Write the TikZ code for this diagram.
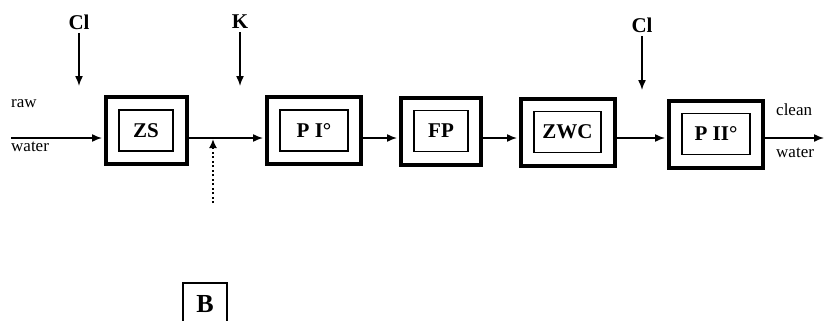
\documentclass[tikz,border=0pt]{standalone}
\usepackage{fontspec}
\setmainfont{Liberation Serif}
\usetikzlibrary{arrows.meta,calc}
\begin{document}
\begin{tikzpicture}[x=1pt,y=-1pt,
  outerbox/.style={draw,line width=4pt,inner sep=0pt,minimum height=67pt},
  innerbox/.style={draw,line width=1.8pt,inner sep=0pt,minimum height=41pt,font=\fontsize{21}{21}\selectfont\bfseries},
  flow/.style={line width=1.5pt,-{Latex[length=10pt,width=8pt]}},
  dose/.style={font=\fontsize{21}{21}\selectfont\bfseries},
  lbl/.style={font=\fontsize{17}{17}\selectfont,anchor=west,inner sep=0pt}]
\useasboundingbox (0,0) rectangle (824,321);
% line level
\coordinate (ln) at (0,138);
% boxes
\node[outerbox,minimum width=81pt] (zs) at (146.5,130.5) {};
\node[innerbox,minimum width=54pt] (zsi) at (146,130.5) {ZS};
\node[outerbox,minimum width=94pt] (p1) at (314,130.5) {};
\node[innerbox,minimum width=68pt] (p1i) at (314,130.5) {P I°};
\node[outerbox,minimum width=80pt] (fp) at (441,131) {};
\node[innerbox,minimum width=54pt] (fpi) at (441,131) {FP};
\node[outerbox,minimum width=94pt] (zwc) at (568,132) {};
\node[innerbox,minimum width=67pt] (zwci) at (567.5,132) {ZWC};
\node[outerbox,minimum width=94pt] (p2) at (716,134) {};
\node[innerbox,minimum width=68pt] (p2i) at (716,134) {P II°};
% main flow
\coordinate (src) at (11,138);
\coordinate (dst) at (824,138);
\draw[flow,shorten >=2pt] (src) -- (zs.west |- ln);
\draw[flow,shorten >=2pt] (zs.east |- ln) -- (p1.west |- ln);
\draw[flow,shorten >=2pt] (p1.east |- ln) -- (fp.west |- ln);
\draw[flow,shorten >=2pt] (fp.east |- ln) -- (zwc.west |- ln);
\draw[flow,shorten >=2pt] (zwc.east |- ln) -- (p2.west |- ln);
\draw[flow] (p2.east |- ln) -- (dst);
% side texts
\node[lbl] (raw) at (11,104) {raw};
\node[lbl] (w1) at (11,147) {water};
\node[lbl] (cln) at (776,110) {clean};
\node[lbl] (w2) at (776,153) {water};
% dosing
\node[dose] (cl1) at (79,22) {Cl};
\coordinate (cl1e) at (79,86);
\draw[flow] (cl1.south) -- (cl1e);
\node[dose] (k) at (240,22) {K};
\coordinate (ke) at (240,86);
\draw[flow] (k.south) -- (ke);
\node[dose] (cl2) at (642,25) {Cl};
\coordinate (cl2e) at (642,90);
\draw[flow] (cl2.south) -- (cl2e);
% dotted input
\coordinate (dots) at (213,203);
\coordinate (dote) at (213,139);
\draw[line width=2pt,dash pattern=on 2pt off 2.5pt,-{Latex[length=9pt,width=8pt]}] (dots) -- (dote);
% B box
\draw[line width=1.6pt] (183,322) -- (183,283) -- (227,283) -- (227,322);
\node[font=\fontsize{26}{26}\selectfont\bfseries] (b) at (205,304) {B};
\end{tikzpicture}
\end{document}
